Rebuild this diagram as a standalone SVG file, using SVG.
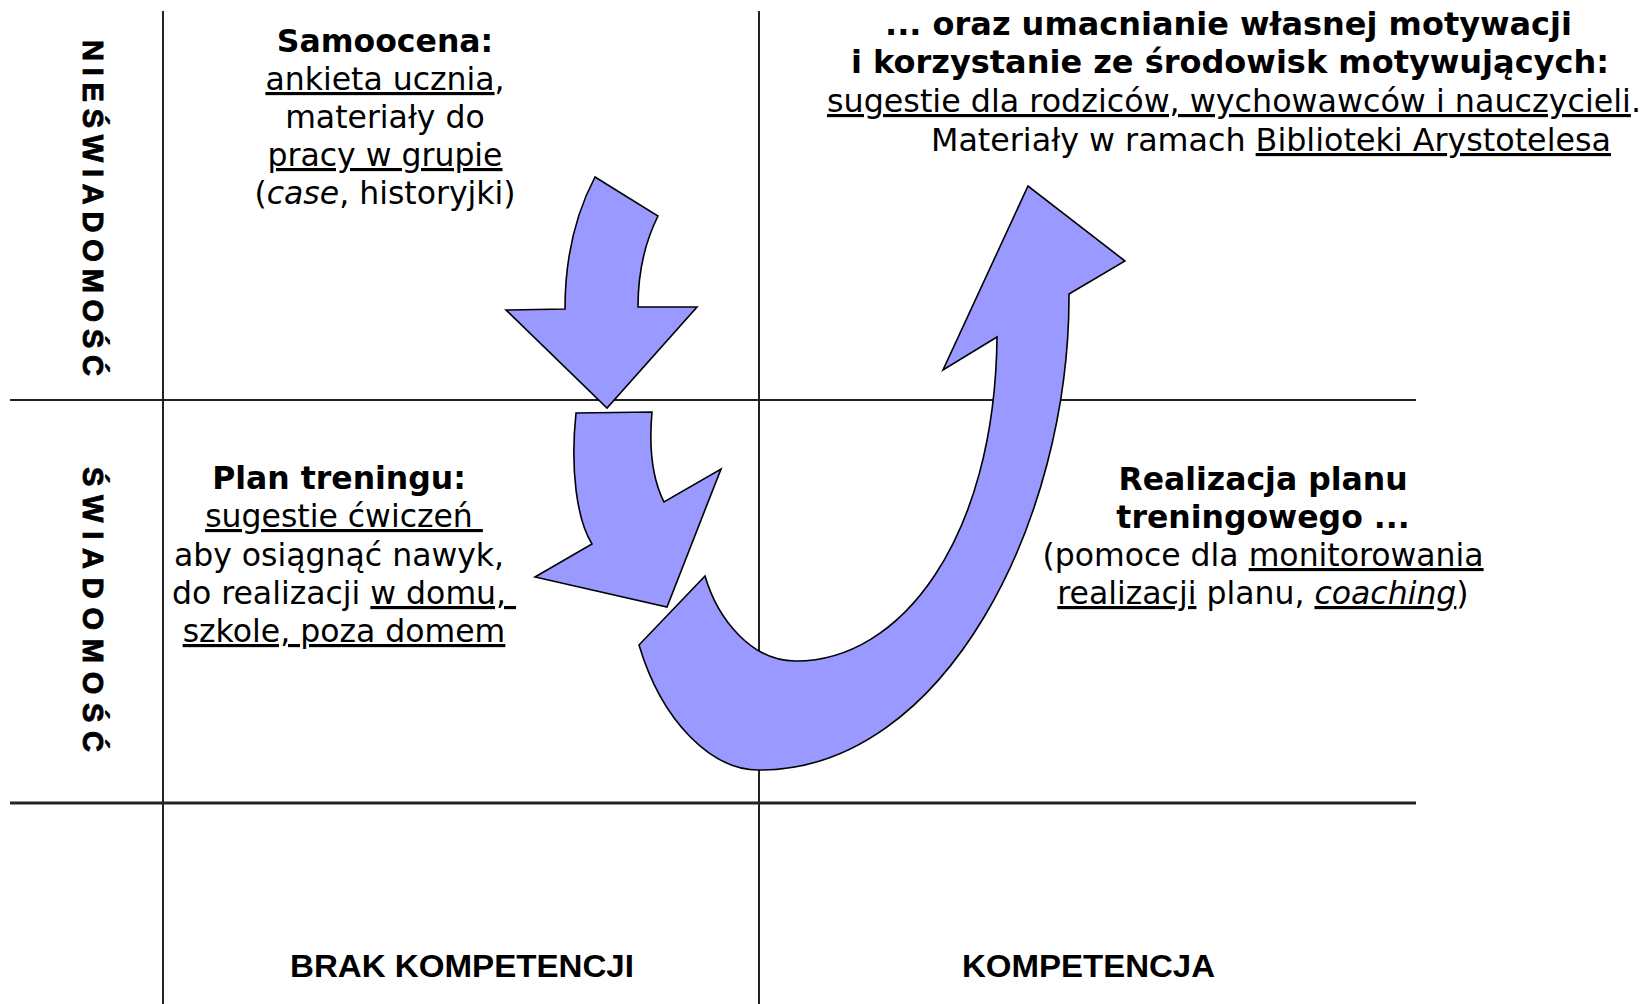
<svg xmlns="http://www.w3.org/2000/svg" width="1647" height="1004" viewBox="0 0 1647 1004">
<style>
.t{font-family:"DejaVu Sans",Verdana,sans-serif;font-size:31.5px;fill:#000}
.c{text-anchor:middle}
.b{font-weight:bold}
.u{text-decoration:underline}
.i{font-style:italic}
.ax{font-family:"Liberation Sans",Arial,sans-serif;font-weight:bold;fill:#000}
.vx{stroke:#000;stroke-width:0.9}
.ln{stroke:#222;fill:none}
.arr{fill:#9999FF;stroke:#000;stroke-width:1.6;stroke-linejoin:miter}
</style>
<rect width="1647" height="1004" fill="#fff"/>
<g id="grid">
<line class="ln" x1="163" y1="11" x2="163" y2="1004" stroke-width="2"/>
<line class="ln" x1="759" y1="11" x2="759" y2="1004" stroke-width="2"/>
<line class="ln" x1="10" y1="400" x2="1416" y2="400" stroke-width="2"/>
<line class="ln" x1="10" y1="803" x2="1416" y2="803" stroke-width="3"/>
</g>
<g id="axis-labels">
<text class="ax vx" font-size="29" transform="translate(83,40) rotate(90)" textLength="336" lengthAdjust="spacing">NIEŚWIADOMOŚĆ</text>
<text class="ax vx" font-size="29" transform="translate(83,467) rotate(90)" textLength="285" lengthAdjust="spacing">ŚWIADOMOŚĆ</text>
<text class="ax" font-size="31" x="290" y="977" textLength="344" lengthAdjust="spacingAndGlyphs">BRAK KOMPETENCJI</text>
<text class="ax" font-size="31" x="962" y="977" textLength="253" lengthAdjust="spacingAndGlyphs">KOMPETENCJA</text>
</g>
<g id="connectors">
<path id="arrow1" class="arr" d="M595,177 L658,216 C647,238 638,270 638,307 L697,307 L607,408 L506,310 L565,309 C565,260 575,215 595,177 Z"/>
<path id="arrow2" class="arr" d="M576,413 L652,412 C649,445 652,478 664,502 L721,469 L667,607 L535,577 L592,544 C577,520 570,470 576,413 Z"/>
<path id="arrow3" class="arr" d="M639,645 L705,576 C718,620 752,661 795,661 C900,662 995,540 997,337 L943,370 L1028,186 L1125,261 L1069,294 C1070,520 945,770 760,770 C712,771 662,722 639,645 Z"/>
</g>
<g id="node-samoocena">
<text class="t c b" x="385" y="52">Samoocena:</text>
<text class="t c" x="385" y="90"><tspan class="u">ankieta ucznia</tspan>,</text>
<text class="t c" x="385" y="128">materiały do</text>
<text class="t c" x="385" y="166"><tspan class="u">pracy w grupie</tspan></text>
<text class="t c" x="385" y="204">(<tspan class="i">case</tspan>, historyjki)</text>
</g>
<g id="node-motywacja">
<text class="t b" x="885" y="35" textLength="687" lengthAdjust="spacingAndGlyphs">... oraz umacnianie własnej motywacji</text>
<text class="t b" x="851" y="73" textLength="758" lengthAdjust="spacingAndGlyphs">i korzystanie ze środowisk motywujących:</text>
<text class="t" x="827" y="112" textLength="814" lengthAdjust="spacingAndGlyphs"><tspan class="u">sugestie dla rodziców, wychowawców i nauczycieli</tspan>.</text>
<text class="t" x="931" y="151" textLength="680" lengthAdjust="spacingAndGlyphs">Materiały w ramach <tspan class="u">Biblioteki Arystotelesa</tspan></text>
</g>
<g id="node-plan">
<text class="t c b" x="339" y="489">Plan treningu:</text>
<text class="t c" x="344" y="527" xml:space="preserve"><tspan class="u">sugestie ćwiczeń </tspan></text>
<text class="t c" x="339" y="566">aby osiągnąć nawyk,</text>
<text class="t c" x="344" y="604" xml:space="preserve">do realizacji <tspan class="u">w domu, </tspan></text>
<text class="t c" x="344" y="642"><tspan class="u">szkole, poza domem</tspan></text>
</g>
<g id="node-realizacja">
<text class="t c b" x="1263" y="490">Realizacja planu</text>
<text class="t c b" x="1263" y="528">treningowego ...</text>
<text class="t c" x="1263" y="566">(pomoce dla <tspan class="u">monitorowania</tspan></text>
<text class="t c" x="1263" y="604"><tspan class="u">realizacji</tspan> planu, <tspan class="i u">coaching</tspan>)</text>
</g>
</svg>
